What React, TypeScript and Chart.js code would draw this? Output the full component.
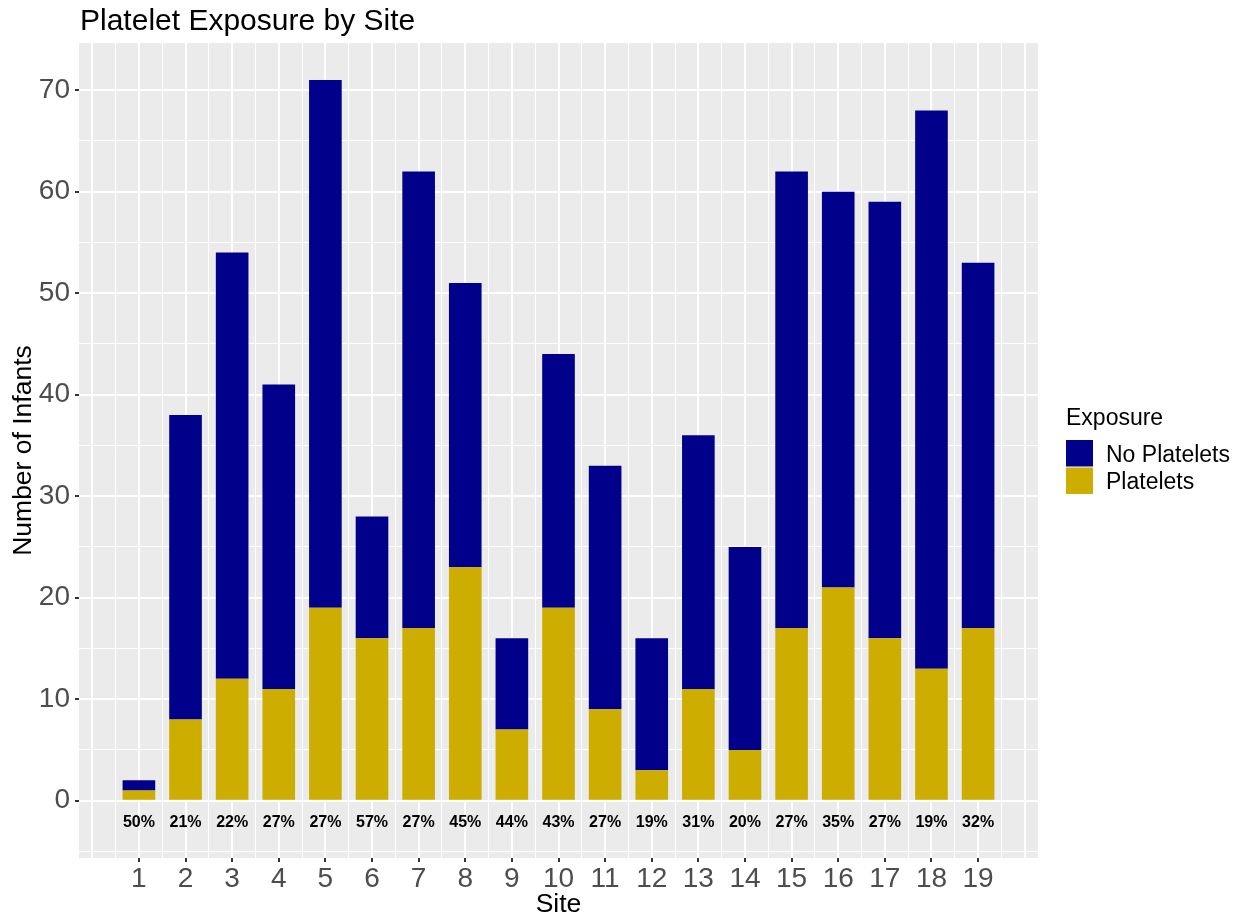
import React, { useEffect, useRef } from 'react';
import { Chart, registerables } from 'chart.js';

Chart.register(...registerables);

// ---- Data ----
const chartTitle = 'Platelet Exposure by Site';
const xTitle = 'Site';
const yTitle = 'Number of Infants';
const legendTitle = 'Exposure';
const seriesNames = ['No Platelets', 'Platelets'];
const sites = [1, 2, 3, 4, 5, 6, 7, 8, 9, 10, 11, 12, 13, 14, 15, 16, 17, 18, 19];
const platelets = [1, 8, 12, 11, 19, 16, 17, 23, 7, 19, 9, 3, 11, 5, 17, 21, 16, 13, 17];
const noPlatelets = [1, 30, 42, 30, 52, 12, 45, 28, 9, 25, 24, 13, 25, 20, 45, 39, 43, 55, 36];
const percentLabels = ['50%', '21%', '22%', '27%', '27%', '57%', '27%', '45%', '44%', '43%', '27%', '19%', '31%', '20%', '27%', '35%', '27%', '19%', '32%'];
const percentLabelY = -2;
const yTickLabels = [0, 10, 20, 30, 40, 50, 60, 70];
const yGridValues = [-5, 0, 5, 10, 15, 20, 25, 30, 35, 40, 45, 50, 55, 60, 65, 70];
const xGridValues = [0, 0.5, 1, 1.5, 2, 2.5, 3, 3.5, 4, 4.5, 5, 5.5, 6, 6.5, 7, 7.5, 8, 8.5, 9, 9.5, 10, 10.5, 11, 11.5, 12, 12.5, 13, 13.5, 14, 14.5, 15, 15.5, 16, 16.5, 17, 17.5, 18, 18.5, 19, 19.5, 20];
const xRange = [-0.285, 20.285];
const yRange = [-5.65, 74.65];

const COLORS = { noPlatelets: '#00008B', platelets: '#CDAD00' };
const FONT = "'Liberation Sans', Arial, Helvetica, sans-serif";

export default function App() {
  const canvasRef = useRef<HTMLCanvasElement | null>(null);

  useEffect(() => {
    document.body.style.margin = '0';
    const canvas = canvasRef.current;
    if (!canvas) return;

    const decorPlugin = {
      id: 'decor',
      beforeDraw(chart: any) {
        const { ctx, chartArea: a } = chart;
        ctx.save();
        ctx.fillStyle = '#EBEBEB';
        ctx.fillRect(a.left, a.top, a.right - a.left, a.bottom - a.top);
        ctx.restore();
      },
      afterDraw(chart: any) {
        const { ctx } = chart;
        const xs = chart.scales.x;
        const ys = chart.scales.y;
        ctx.save();
        // percentage labels
        ctx.font = `bold 16px ${FONT}`;
        ctx.fillStyle = '#000000';
        ctx.textAlign = 'center';
        ctx.textBaseline = 'middle';
        sites.forEach((s, i) => {
          ctx.fillText(percentLabels[i], xs.getPixelForValue(s), ys.getPixelForValue(percentLabelY) + 2);
        });
        // title
        ctx.font = `30px ${FONT}`;
        ctx.textAlign = 'left';
        ctx.textBaseline = 'alphabetic';
        ctx.fillText(chartTitle, 80, 30);
        // legend
        const lx = 1066;
        ctx.font = `23px ${FONT}`;
        ctx.fillText(legendTitle, lx, 424.5);
        const keys = [COLORS.noPlatelets, COLORS.platelets];
        keys.forEach((c, i) => {
          const top = 440 + i * 27.5;
          ctx.fillStyle = c;
          ctx.fillRect(lx, top, 27, 26.5);
          ctx.fillStyle = '#000000';
          ctx.fillText(seriesNames[i], 1106, top + 21.5);
        });
        ctx.restore();
      },
    };

    const chart = new Chart(canvas, {
      type: 'bar',
      data: {
        datasets: [
          {
            label: seriesNames[1],
            data: sites.map((s, i) => ({ x: s, y: platelets[i] })),
            backgroundColor: COLORS.platelets,
            borderWidth: 0,
            categoryPercentage: 1.4,
            barPercentage: 1,
          },
          {
            label: seriesNames[0],
            data: sites.map((s, i) => ({ x: s, y: noPlatelets[i] })),
            backgroundColor: COLORS.noPlatelets,
            borderWidth: 0,
            categoryPercentage: 1.4,
            barPercentage: 1,
          },
        ],
      },
      options: {
        responsive: false,
        animation: false,
        layout: { padding: { top: 43, right: 205, left: 0, bottom: 0 } },
        plugins: {
          legend: { display: false },
          title: { display: false },
          tooltip: { enabled: false },
        },
        scales: {
          x: {
            type: 'linear',
            stacked: true,
            min: xRange[0],
            max: xRange[1],
            offset: false,
            afterBuildTicks: (s: any) => {
              s.ticks = xGridValues.map((v) => ({ value: v }));
            },
            afterFit: (s: any) => {
              s.height = 64;
            },
            border: { display: false },
            grid: {
              offset: false,
              color: '#FFFFFF',
              lineWidth: (c: any) => (Number.isInteger(c.tick?.value) ? 2 : 1),
              drawTicks: true,
              tickLength: 4,
              tickWidth: 2,
              tickColor: (c: any) =>
                sites.includes(c.tick?.value) ? '#333333' : 'rgba(0,0,0,0)',
            },
            ticks: {
              autoSkip: false,
              maxRotation: 0,
              padding: 0,
              color: '#4D4D4D',
              font: { family: FONT, size: 28 },
              callback: (v: any) => (sites.includes(Number(v)) ? String(v) : ''),
            },
            title: {
              display: true,
              text: xTitle,
              color: '#000000',
              font: { family: FONT, size: 26.5 },
              padding: { top: 0, bottom: 1.5 },
            },
          },
          y: {
            type: 'linear',
            stacked: true,
            min: yRange[0],
            max: yRange[1],
            afterBuildTicks: (s: any) => {
              s.ticks = yGridValues.map((v) => ({ value: v }));
            },
            afterFit: (s: any) => {
              s.width = 79;
            },
            border: { display: false },
            grid: {
              offset: false,
              color: '#FFFFFF',
              lineWidth: (c: any) => (c.tick && c.tick.value % 10 === 0 ? 2 : 1),
              drawTicks: true,
              tickLength: 4,
              tickWidth: 2,
              tickColor: (c: any) =>
                yTickLabels.includes(c.tick?.value) ? '#333333' : 'rgba(0,0,0,0)',
            },
            ticks: {
              autoSkip: false,
              padding: 5,
              color: '#4D4D4D',
              font: { family: FONT, size: 28 },
              callback: (v: any) => (yTickLabels.includes(Number(v)) ? String(v) : ''),
            },
            title: {
              display: true,
              text: yTitle,
              color: '#000000',
              font: { family: FONT, size: 26.5 },
              padding: { top: 8, bottom: 0 },
            },
          },
        },
      },
      plugins: [decorPlugin],
    });

    return () => chart.destroy();
  }, []);

  return (
    <div style={{ width: 1243, height: 922 }}>
      <canvas ref={canvasRef} width={1243} height={922} style={{ display: 'block' }} />
    </div>
  );
}
